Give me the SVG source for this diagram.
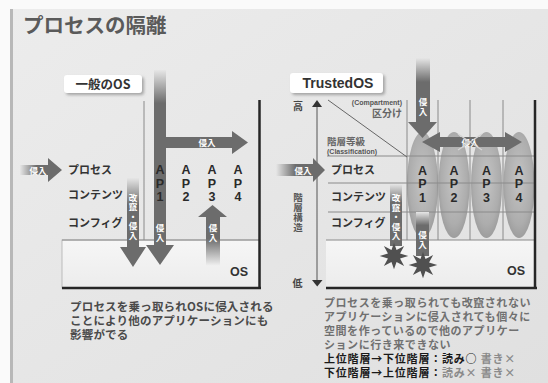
<svg xmlns="http://www.w3.org/2000/svg" width="548" height="383" viewBox="0 0 548 383">
<style>
.jp{font-family:"Noto Sans CJK JP","Noto Sans",sans-serif;font-weight:bold}
.lat{font-family:"Liberation Sans",Arial,sans-serif;font-weight:bold}
.lbl{font-size:11px;fill:#333}
.ap{font-size:12.5px;fill:#2a2a2a;writing-mode:vertical-rl;text-orientation:upright;letter-spacing:-0.5px}
.wt{font-size:8.5px;fill:#fff;text-anchor:middle}
.vt{font-size:8.5px;fill:#fff;writing-mode:vertical-rl;letter-spacing:1px}
.thin{stroke:#8a8a8a;stroke-width:1;fill:none}
.thick{stroke:#262626;stroke-width:2.5;fill:none}
.desc{font-size:11.5px;fill:#4a4a4a;letter-spacing:0.2px}
.desc2{font-size:11px;fill:#707070;letter-spacing:0.55px}
.rule{font-size:11px;fill:#1a1a1a;letter-spacing:0.8px}
.rulel{fill:#8a8a8a}
.dark{fill:#6c6c6c}
.burst{fill:#505050}
</style>
<defs>
<linearGradient id="bg" x1="0" y1="0" x2="1" y2="1">
<stop offset="0" stop-color="#ececec"/><stop offset="1" stop-color="#e0e0e0"/>
</linearGradient>
<linearGradient id="fadeTop" x1="0" y1="0" x2="0" y2="1">
<stop offset="0" stop-color="#e6e6e6"/><stop offset="0.3" stop-color="#6c6c6c"/><stop offset="1" stop-color="#6c6c6c"/>
</linearGradient>
<linearGradient id="fadeTopLong" x1="0" y1="0" x2="0" y2="1">
<stop offset="0" stop-color="#e6e6e6"/><stop offset="0.17" stop-color="#6c6c6c"/><stop offset="1" stop-color="#6c6c6c"/>
</linearGradient>
<linearGradient id="fadeBottom" x1="0" y1="0" x2="0" y2="1">
<stop offset="0" stop-color="#6c6c6c"/><stop offset="0.55" stop-color="#6c6c6c"/><stop offset="1" stop-color="#f2f2f2"/>
</linearGradient>
<linearGradient id="fadeLeft" x1="0" y1="0" x2="1" y2="0">
<stop offset="0" stop-color="#e6e6e6"/><stop offset="0.4" stop-color="#6c6c6c"/><stop offset="1" stop-color="#6c6c6c"/>
</linearGradient>
<linearGradient id="osfill" x1="0" y1="0" x2="0" y2="1">
<stop offset="0" stop-color="#f6f6f6"/><stop offset="1" stop-color="#ececec"/>
</linearGradient>
<radialGradient id="cloud" cx="0.5" cy="0.45" r="0.6">
<stop offset="0" stop-color="#c4c4c4"/><stop offset="0.7" stop-color="#adadad"/><stop offset="1" stop-color="#979797"/>
</radialGradient>
<filter id="sh" x="-20%" y="-30%" width="140%" height="170%">
<feDropShadow dx="2" dy="2" stdDeviation="1.5" flood-color="#777" flood-opacity="0.6"/>
</filter>
<path id="burst" d="M13,0 L5.5,2.3 L9.2,9.2 L2.3,5.5 L0,12 L-2.3,5.5 L-9.2,9.2 L-5.5,2.3 L-13,0 L-5.5,-2.3 L-9.2,-9.2 L-2.3,-5.5 L0,-12 L2.3,-5.5 L9.2,-9.2 L5.5,-2.3 Z"/>
</defs>

<rect x="0" y="0" width="548" height="383" fill="#fafafa"/>
<rect x="10" y="9" width="538" height="374" fill="url(#bg)"/>
<rect x="10" y="9" width="3" height="374" fill="#b8b8b8"/>

<g id="title">
<text class="jp" x="23" y="32.5" font-size="20.5" fill="#5a5a5a">プロセスの隔離</text>
</g>

<!-- ===== Left: general OS ===== -->
<g id="left-label">
<rect x="64" y="75" width="78" height="18" rx="3" fill="#fff" filter="url(#sh)"/>
<text class="jp" x="103" y="88.5" font-size="12.5" fill="#333" text-anchor="middle">一般のOS</text>
</g>

<g id="left-os">
<rect x="62" y="240" width="198" height="48" fill="url(#osfill)" stroke="#b0b0b0" stroke-width="0.8"/>
<line class="thin" x1="62" y1="240" x2="260" y2="240"/>
<line class="thick" x1="62" y1="288" x2="261" y2="288"/>
<text class="lat" x="239" y="276" font-size="12.5" fill="#333" text-anchor="middle">OS</text>
</g>

<g id="left-frame">
<line class="thin" x1="144" y1="101" x2="144" y2="240"/>
<line class="thick" x1="259.5" y1="100" x2="259.5" y2="289"/>
</g>

<g id="left-layers">
<text class="jp lbl" x="68" y="174">プロセス</text>
<text class="jp lbl" x="68" y="199">コンテンツ</text>
<text class="jp lbl" x="68" y="227">コンフィグ</text>
</g>

<g id="left-connectors">
<path d="M20,165 L48,165 L48,158 L62,170 L48,182 L48,175 L20,175 Z" fill="url(#fadeLeft)"/>
<text class="jp wt" x="38" y="173.5">侵入</text>
<path d="M154,70 L166,70 L166,245 L174,245 L160,265 L146,245 L154,245 Z" fill="url(#fadeTopLong)"/>
<path class="dark" d="M166,137 L232,137 L232,131 L248,142.5 L232,154 L232,148 L166,148 Z"/>
<text class="jp wt" x="207" y="146">侵入</text>
<path d="M127,178 L139,178 L139,247 L146,247 L133,267 L120,247 L127,247 Z" fill="url(#fadeTop)"/>
<text class="jp vt" x="133" y="193.5">改竄・侵入</text>
<text class="jp vt" x="160" y="224">侵入</text>
<path d="M212.5,205 L227,217 L220,217 L220,266 L206,266 L206,217 L198,217 Z" fill="url(#fadeBottom)"/>
<text class="jp vt" x="213" y="224">侵入</text>
</g>

<g id="left-ap1"><text class="lat ap" x="160" y="163">AP1</text></g>
<g id="left-ap2"><text class="lat ap" x="186" y="163">AP2</text></g>
<g id="left-ap3"><text class="lat ap" x="212" y="163">AP3</text></g>
<g id="left-ap4"><text class="lat ap" x="238" y="163">AP4</text></g>

<g id="left-desc">
<text class="jp desc" x="70" y="311">プロセスを乗っ取られOSに侵入される</text>
<text class="jp desc" x="70" y="325">ことにより他のアプリケーションにも</text>
<text class="jp desc" x="70" y="339">影響がでる</text>
</g>

<!-- ===== Right: TrustedOS ===== -->
<g id="right-label">
<rect x="290" y="73" width="93" height="20" rx="3" fill="#fff" filter="url(#sh)"/>
<text class="lat" x="338" y="88" font-size="14" fill="#333" text-anchor="middle">TrustedOS</text>
</g>

<g id="right-clouds">
<ellipse cx="422.5" cy="185" rx="15.5" ry="53" fill="url(#cloud)"/>
<ellipse cx="454" cy="185" rx="15.5" ry="53" fill="url(#cloud)"/>
<ellipse cx="486.5" cy="185" rx="15.5" ry="53" fill="url(#cloud)"/>
<ellipse cx="519" cy="185" rx="15.5" ry="53" fill="url(#cloud)"/>
</g>

<g id="right-os">
<rect x="326" y="240" width="209" height="48" fill="url(#osfill)"/>
<line class="thin" x1="326" y1="240" x2="535" y2="240"/>
<line class="thick" x1="326" y1="288" x2="537" y2="288"/>
<text class="lat" x="516" y="275" font-size="12.5" fill="#333" text-anchor="middle">OS</text>
</g>

<g id="right-grid">
<line class="thin" x1="327" y1="156" x2="535" y2="156"/>
<line class="thin" x1="328" y1="183" x2="535" y2="183"/>
<line class="thin" x1="328" y1="212" x2="535" y2="212"/>
<line class="thin" x1="407" y1="100" x2="407" y2="240"/>
<line class="thin" x1="438" y1="100" x2="438" y2="240"/>
<line class="thin" x1="470" y1="100" x2="470" y2="240"/>
<line class="thin" x1="503" y1="100" x2="503" y2="240"/>
<line class="thick" x1="535" y1="100" x2="535" y2="289"/>
<line x1="328" y1="100" x2="407" y2="157" stroke="#666" stroke-width="1"/>
</g>

<g id="right-axis">
<line x1="317" y1="106" x2="317" y2="281" stroke="#555" stroke-width="1"/>
<path d="M317,100 L322,107 L312,107 Z" fill="#333"/>
<path d="M312,280 L322.5,280 L317.2,286.5 Z" fill="#333"/>
<text class="jp" x="298" y="110" font-size="10" fill="#444" text-anchor="middle">高</text>
<text class="jp" x="297.5" y="287" font-size="10" fill="#444" text-anchor="middle">低</text>
<text class="jp" x="298" y="193" font-size="9.5" fill="#555" style="writing-mode:vertical-rl" letter-spacing="0.5">階層構造</text>
</g>

<g id="right-levels">
<text class="lat" x="402" y="105" font-size="7" fill="#555" text-anchor="end" font-weight="normal">(Compartment)</text>
<text class="jp" x="402" y="117" font-size="10" fill="#666" text-anchor="end">区分け</text>
<text class="jp" x="327" y="144.5" font-size="9.5" fill="#666">階層等級</text>
<text class="lat" x="327" y="153.5" font-size="7" fill="#555">(Classification)</text>
</g>

<g id="right-layers">
<text class="jp lbl" x="331" y="174">プロセス</text>
<text class="jp lbl" x="331" y="201">コンテンツ</text>
<text class="jp lbl" x="331" y="227">コンフィグ</text>
</g>

<g id="right-ap1"><text class="lat ap" x="422.5" y="163.5">AP1</text></g>
<g id="right-ap2"><text class="lat ap" x="454" y="163.5">AP2</text></g>
<g id="right-ap3"><text class="lat ap" x="486.5" y="163.5">AP3</text></g>
<g id="right-ap4"><text class="lat ap" x="519" y="163.5">AP4</text></g>

<g id="right-connectors">
<path d="M276,164 L313,164 L313,158 L325,170 L313,182 L313,176 L276,176 Z" fill="url(#fadeLeft)"/>
<text class="jp wt" x="303" y="173.5">侵入</text>
<path d="M416,58 L430,58 L430,122 L437,122 L422.5,138 L408,122 L416,122 Z" fill="url(#fadeTop)"/>
<text class="jp vt" x="423" y="98">侵入</text>
<path class="dark" d="M422,142 L440,132 L440,137 L505,137 L505,132 L522,142 L505,152 L505,147 L440,147 L440,152 Z"/>
<text class="jp wt" x="470" y="145.5">侵入</text>
<path d="M458,134 L482,150 M458,150 L482,134" stroke="#d4d4d4" stroke-width="1.3" fill="none"/>
<rect x="390" y="184" width="12" height="62" fill="url(#fadeTop)"/>
<text class="jp vt" x="396" y="194" letter-spacing="0.5">改竄・侵入</text>
<rect x="416" y="212" width="13" height="44" fill="url(#fadeTop)"/>
<text class="jp vt" x="422.5" y="231">侵入</text>
<use href="#burst" class="burst" transform="translate(394,256) scale(1.1)"/>
<use href="#burst" class="burst" transform="translate(423,265) scale(1.1)"/>
</g>

<g id="right-desc">
<text class="jp desc2" x="324" y="306.5">プロセスを乗っ取られても改竄されない</text>
<text class="jp desc2" x="324" y="320.5">アプリケーションに侵入されても個々に</text>
<text class="jp desc2" x="324" y="334.5">空間を作っているので他のアプリケー</text>
<text class="jp desc2" x="324" y="348.5">ションに行き来できない</text>
<text class="jp rule" x="324" y="362.5">上位階層→下位階層：読み○ <tspan class="rulel">書き×</tspan></text>
<text class="jp rule" x="324" y="376.5">下位階層→上位階層：<tspan class="rulel">読み× 書き×</tspan></text>
</g>
</svg>
